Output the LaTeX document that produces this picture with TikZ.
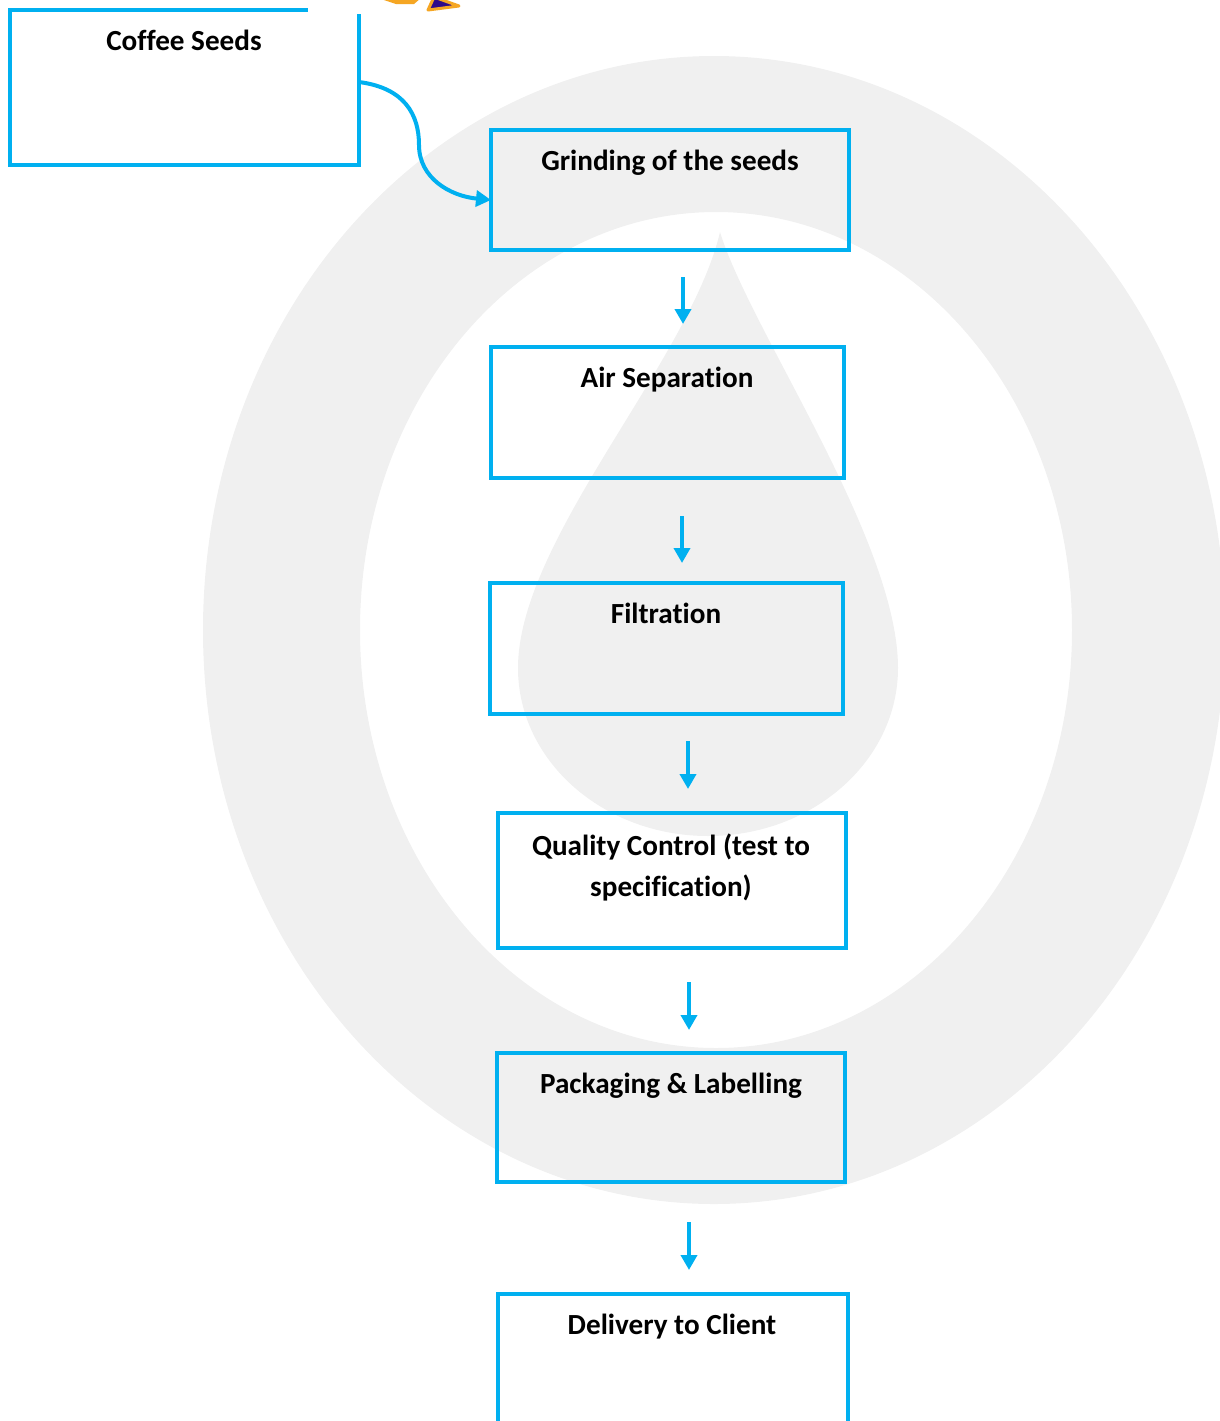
\documentclass[tikz,border=0pt]{standalone}
\usepackage{fontspec}
\setmainfont{Carlito}[Ligatures=NoCommon]
\usepackage{tikz}
\usetikzlibrary{arrows.meta}
\usetikzlibrary{fit}

\definecolor{flowblue}{HTML}{00B0F0}
\definecolor{markgray}{HTML}{F0F0F0}
\definecolor{starorange}{HTML}{F5A623}
\definecolor{stardark}{HTML}{2E0A8A}

\begin{document}
\begin{tikzpicture}[x=0.02cm, y=-0.02cm,
		stage/.style={draw=flowblue, line width=0.09cm, inner sep=0pt},
		lbl/.style={anchor=base, align=center, inner sep=0pt, font=\fontsize{16.6}{23.3}\selectfont\bfseries},
		flow/.style={draw=flowblue, line width=0.08cm, -{Triangle[length=0.3cm, width=0.32cm]}}]
				\clip (0,0) rectangle (1220,1421);
				% watermark
				\fill[markgray, even odd rule] (714,630) ellipse [x radius=511, y radius=574] (716,630) ellipse [x radius=356, y radius=418];
				\fill[markgray] (720,232) .. controls (690,360) and (518,540) .. (518,668) arc [start angle=180, end angle=0, x radius=190, y radius=168] .. controls (898,540) and (750,330) .. (720,232);
				% boxes
				\node[stage, fit={(10,10) (359,165)}] (seeds) {};
				\node[stage, fit={(491,130) (849,250)}] (grind) {};
				\node[stage, fit={(491,347) (844,478)}] (airsep) {};
				\node[stage, fit={(490,583) (843,714)}] (filter) {};
				\node[stage, fit={(498,813) (846,948)}] (quality) {};
				\node[stage, fit={(497,1053) (845,1182)}] (packing) {};
				\node[stage, fit={(498,1294) (848,1450)}] (delivery) {};
				% top patch and star
				\fill[white] (308,-5) rectangle (475,14);
				\fill[starorange] (378,-2) -- (421,-2) -- (414,4) -- (396,4) -- cycle;
				\filldraw[fill=stardark, draw=starorange, line width=0.06cm, line join=round] (434,-3) -- (428,10) -- (459,6) -- cycle;
				% texts
				\node[lbl] (seedstxt) at (184,50) {Coffee Seeds};
				\node[lbl] (grindtxt) at (670,170) {Grinding of the seeds};
				\node[lbl] (airseptxt) at (667,387) {Air Separation};
				\node[lbl] (filtertxt) at (666,623) {Filtration};
				\node[lbl] (qualitytxt) at (671,896) {Quality Control (test to\\specification)};
				\node[lbl] (packingtxt) at (671,1093) {Packaging \& Labelling};
				\node[lbl] (deliverytxt) at (672,1334) {Delivery to Client};
				% connectors
				\coordinate (seedsout) at (359,82);
				\coordinate (grindin) at (491,200);
				\draw[flow] (seedsout) .. controls (405,88) and (419,115) .. (419,145) .. controls (419,178) and (450,196) .. (grindin);
				\coordinate (a1s) at (683,277);
				\coordinate (a1e) at (683,324);
				\coordinate (a2s) at (682,516);
				\coordinate (a2e) at (682,563);
				\coordinate (a3s) at (688,741);
				\coordinate (a3e) at (688,789);
				\coordinate (a4s) at (689,982);
				\coordinate (a4e) at (689,1030);
				\coordinate (a5s) at (689,1222);
				\coordinate (a5e) at (689,1270);
				\draw[flow] (a1s) -- (a1e);
				\draw[flow] (a2s) -- (a2e);
				\draw[flow] (a3s) -- (a3e);
				\draw[flow] (a4s) -- (a4e);
				\draw[flow] (a5s) -- (a5e);
\end{tikzpicture}
\end{document}
